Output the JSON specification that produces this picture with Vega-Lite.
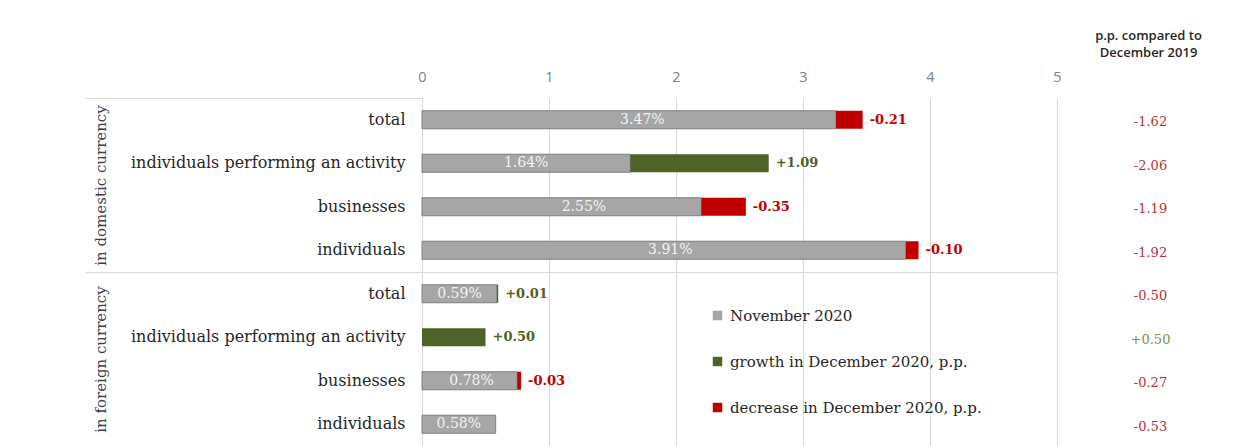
{
  "$schema": "https://vega.github.io/schema/vega-lite/v6.json",
  "width": 635,
  "height": 348,
  "autosize": "none",
  "padding": {"left": 422, "top": 98, "right": 179, "bottom": 0},
  "background": "white",
  "config": {"view": {"stroke": null}},
  "datasets": {
    "cats": [
      {"key": "1|total", "group": "in domestic currency", "nov": 3.47, "novLabel": "3.47%", "pp": "-1.62", "order": 1},
      {"key": "2|individuals performing an activity", "group": "in domestic currency", "nov": 1.64, "novLabel": "1.64%", "pp": "-2.06", "order": 2},
      {"key": "3|businesses", "group": "in domestic currency", "nov": 2.55, "novLabel": "2.55%", "pp": "-1.19", "order": 3},
      {"key": "4|individuals", "group": "in domestic currency", "nov": 3.91, "novLabel": "3.91%", "pp": "-1.92", "order": 4},
      {"key": "5|total", "group": "in foreign currency", "nov": 0.59, "novLabel": "0.59%", "pp": "-0.50", "order": 5},
      {"key": "6|individuals performing an activity", "group": "in foreign currency", "nov": 0.0, "novLabel": "", "pp": "+0.50", "order": 6},
      {"key": "7|businesses", "group": "in foreign currency", "nov": 0.78, "novLabel": "0.78%", "pp": "-0.27", "order": 7},
      {"key": "8|individuals", "group": "in foreign currency", "nov": 0.58, "novLabel": "0.58%", "pp": "-0.53", "order": 8}
    ],
    "segs": [
      {"key": "1|total", "series": "November 2020", "value": 3.26, "lbl": ""},
      {"key": "1|total", "series": "decrease in December 2020, p.p.", "value": 0.21, "lbl": "-0.21"},
      {"key": "2|individuals performing an activity", "series": "November 2020", "value": 1.64, "lbl": ""},
      {"key": "2|individuals performing an activity", "series": "growth in December 2020, p.p.", "value": 1.09, "lbl": "+1.09"},
      {"key": "3|businesses", "series": "November 2020", "value": 2.20, "lbl": ""},
      {"key": "3|businesses", "series": "decrease in December 2020, p.p.", "value": 0.35, "lbl": "-0.35"},
      {"key": "4|individuals", "series": "November 2020", "value": 3.81, "lbl": ""},
      {"key": "4|individuals", "series": "decrease in December 2020, p.p.", "value": 0.10, "lbl": "-0.10"},
      {"key": "5|total", "series": "November 2020", "value": 0.59, "lbl": ""},
      {"key": "5|total", "series": "growth in December 2020, p.p.", "value": 0.01, "lbl": "+0.01"},
      {"key": "6|individuals performing an activity", "series": "growth in December 2020, p.p.", "value": 0.50, "lbl": "+0.50"},
      {"key": "7|businesses", "series": "November 2020", "value": 0.75, "lbl": ""},
      {"key": "7|businesses", "series": "decrease in December 2020, p.p.", "value": 0.03, "lbl": "-0.03"},
      {"key": "8|individuals", "series": "November 2020", "value": 0.58, "lbl": ""}
    ]
  },
  "layer": [
    {
      "layer": [
        {
          "data": {"name": "segs"},
          "mark": {"type": "bar", "strokeWidth": 1},
          "encoding": {
            "y": {
              "field": "key", "type": "nominal", "sort": "ascending",
              "scale": {"paddingInner": 0.586, "paddingOuter": 0.293},
              "axis": {
                "orient": "left", "title": null, "ticks": false, "domain": false, "grid": false,
                "labelExpr": "split(datum.label, '|')[1]",
                "labelPadding": 17, "labelLimit": 0,
                "labelFont": "DejaVu Serif", "labelFontSize": 16, "labelColor": "#262626"
              }
            },
            "x": {
              "field": "value", "type": "quantitative", "stack": "zero",
              "scale": {"domain": [0, 5], "nice": false, "zero": true},
              "axis": {
                "orient": "top", "title": null, "values": [0, 1, 2, 3, 4, 5], "format": "d",
                "ticks": false, "domain": false, "grid": true, "gridColor": "#d9d9d9",
                "labelPadding": 14, "labelFont": "Open Sans", "labelFontSize": 14.5,
                "labelColor": "#7f7f7f", "labelFlush": false
              }
            },
            "color": {
              "field": "series", "type": "nominal",
              "scale": {
                "domain": ["November 2020", "growth in December 2020, p.p.", "decrease in December 2020, p.p."],
                "range": ["#a6a6a6", "#4f6228", "#c00000"]
              },
              "legend": {
                "orient": "none", "legendX": 288, "legendY": 210, "title": null,
                "symbolType": "square", "symbolSize": 90, "symbolStrokeWidth": 0,
                "labelFont": "DejaVu Serif", "labelFontSize": 15, "labelColor": "#262626",
                "labelOffset": 5, "rowPadding": 30, "padding": 0, "labelLimit": 0
              }
            },
            "stroke": {
              "condition": {"test": "datum.series === 'November 2020'", "value": "#7f7f7f"},
              "value": "transparent"
            }
          }
        },
        {
          "data": {"name": "cats"},
          "transform": [{"filter": "datum.novLabel !== ''"}],
          "mark": {"type": "text", "font": "DejaVu Serif", "fontSize": 14, "color": "#f2f2f2", "align": "center", "baseline": "middle"},
          "encoding": {
            "y": {"field": "key", "type": "nominal", "sort": "ascending"},
            "x": {"field": "nov", "type": "quantitative", "stack": "zero", "bandPosition": 0.5},
            "text": {"field": "novLabel"}
          }
        },
        {
          "data": {"name": "segs"},
          "mark": {"type": "text", "font": "DejaVu Serif", "fontSize": 13, "fontWeight": "bold", "align": "left", "baseline": "middle", "dx": 7},
          "encoding": {
            "y": {"field": "key", "type": "nominal", "sort": "ascending"},
            "x": {"field": "value", "type": "quantitative", "stack": "zero"},
            "text": {"field": "lbl"},
            "color": {
              "condition": {"test": "datum.series === 'decrease in December 2020, p.p.'", "value": "#c00000"},
              "value": "#4f6228"
            }
          }
        }
      ]
    },
    {
      "data": {"name": "cats"},
      "mark": {"type": "text"},
      "encoding": {
        "y": {
          "field": "group", "type": "nominal", "sort": "ascending",
          "scale": {"paddingInner": 0, "paddingOuter": 0},
          "axis": {
            "orient": "left", "title": null, "domain": false,
            "ticks": true, "tickSize": 337, "tickColor": "#d9d9d9", "tickBand": "extent",
            "grid": true,
            "gridColor": {"condition": {"test": "datum.value === 'in domestic currency'", "value": "#d9d9d9"}, "value": "transparent"},
            "labelAngle": 270, "labelAlign": "center", "labelBaseline": "middle",
            "labelPadding": -15, "labelLimit": 0,
            "labelFont": "DejaVu Serif", "labelFontSize": 15, "labelColor": "#404040"
          }
        }
      }
    },
    {
      "data": {"name": "cats"},
      "mark": {"type": "text"},
      "encoding": {
        "y": {
          "field": "pp", "type": "nominal", "sort": {"field": "order", "op": "min"},
          "axis": {
            "orient": "right", "domain": false, "ticks": false, "grid": false,
            "labelPadding": 93, "labelAlign": "center", "labelBaseline": "middle", "labelOffset": 2,
            "labelFont": "DejaVu Serif", "labelFontSize": 13,
            "labelColor": {"condition": {"test": "indexof(datum.label, '+') === 0", "value": "#77933c"}, "value": "#b8312f"},
            "title": ["p.p. compared to", "December 2019"],
            "titleAngle": 0, "titleAlign": "center", "titleBaseline": "alphabetic",
            "titleX": 91, "titleY": -59, "titleLineHeight": 17,
            "titleFont": "Open Sans", "titleFontSize": 13, "titleFontWeight": 600, "titleColor": "#262626"
          }
        }
      }
    }
  ],
  "resolve": {"scale": {"y": "independent"}, "axis": {"y": "independent"}}
}
